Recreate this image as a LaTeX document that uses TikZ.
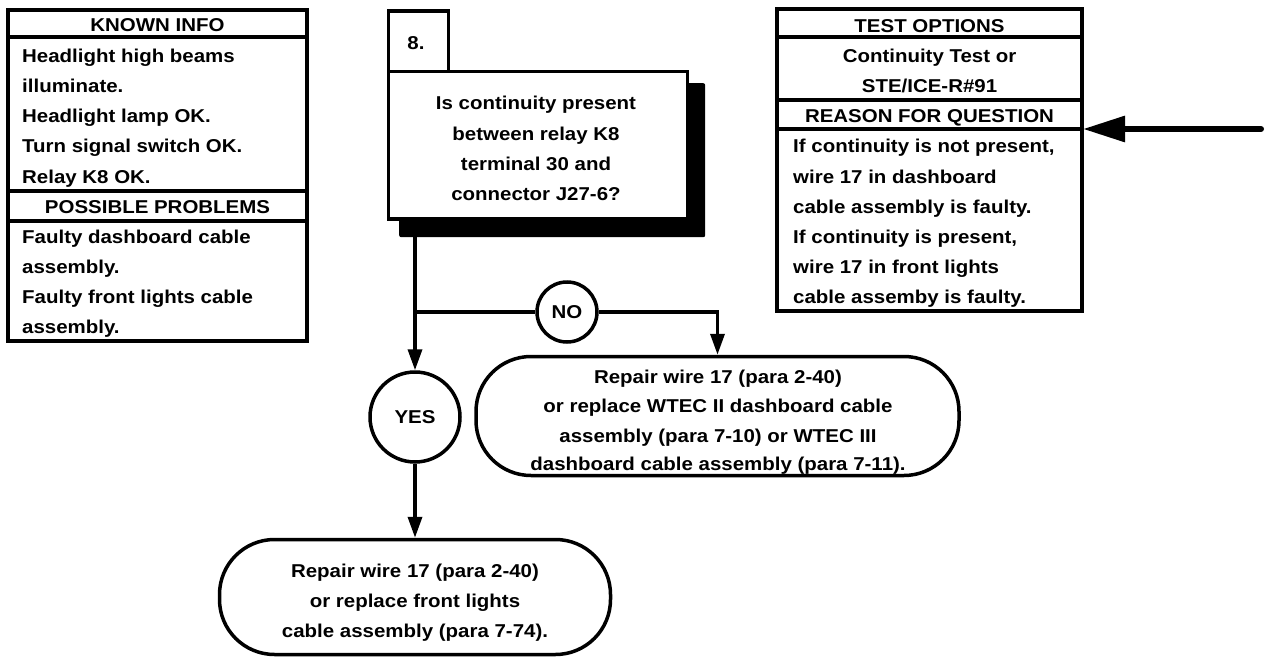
\documentclass[tikz,border=0pt]{standalone}
\usepackage{fontspec}
\setmainfont{Liberation Sans}[FakeStretch=1.1]
\usetikzlibrary{arrows.meta}
\begin{document}
\begin{tikzpicture}[x=1pt,y=-1pt,
  txt/.style={font=\fontsize{18.6}{30}\selectfont\bfseries, inner sep=0pt, anchor=base},
  txtl/.style={txt, anchor=base west},
  panel/.style={draw, line width=3.5pt},
  conn/.style={line width=3.5pt},
  arr/.style={conn, -{Triangle[length=21pt,width=14pt]}},
  shape0/.style={draw, line width=3.5pt, inner sep=0pt},
  result/.style={shape0, rounded corners=55pt}]
\useasboundingbox (0,0) rectangle (1268,658);

% ---------- left panel ----------
\draw[panel] (8,10) rectangle (307,341);
\draw[panel] (8,37) -- (307,37);
\draw[panel] (8,191) -- (307,191);
\draw[panel] (8,221) -- (307,221);
\node[txt] (kh) at (157.5,32) {KNOWN INFO};
\node[txtl] (k1) at (22,63) {Headlight high beams};
\node[txtl] (k2) at (22,93) {illuminate.};
\node[txtl] (k3) at (22,123) {Headlight lamp OK.};
\node[txtl] (k4) at (22,153) {Turn signal switch OK.};
\node[txtl] (k5) at (22,183) {Relay K8 OK.};
\node[txt] (ph) at (157.5,213) {POSSIBLE PROBLEMS};
\node[txtl] (p1) at (22,243) {Faulty dashboard cable};
\node[txtl] (p2) at (22,273) {assembly.};
\node[txtl] (p3) at (22,303) {Faulty front lights cable};
\node[txtl] (p4) at (22,333) {assembly.};

% ---------- right panel ----------
\draw[panel] (777,9) rectangle (1082,311);
\draw[panel] (777,37) -- (1082,37);
\draw[panel] (777,100) -- (1082,100);
\draw[panel] (777,129) -- (1082,129);
\node[txt] (th) at (929.5,33) {TEST OPTIONS};
\node[txt] (t1) at (929.5,63) {Continuity Test or};
\node[txt] (t2) at (929.5,93) {STE/ICE-R\#91};
\node[txt] (rh) at (929.5,123) {REASON FOR QUESTION};
\node[txtl] (r1) at (793,153) {If continuity is not present,};
\node[txtl] (r2) at (793,183) {wire 17 in dashboard};
\node[txtl] (r3) at (793,213) {cable assembly is faulty.};
\node[txtl] (r4) at (793,243) {If continuity is present,};
\node[txtl] (r5) at (793,273) {wire 17 in front lights};
\node[txtl] (r6) at (793,303) {cable assemby is faulty.};

\coordinate (rq) at (1083,129);
\coordinate (rqstart) at (1261,129);
\draw[line width=6pt, line cap=round, -{Triangle[length=42pt,width=25pt]}] (rqstart) -- (rq);

% ---------- question box ----------
\node[fill=black, rounded corners=2pt, minimum width=306pt, minimum height=154pt,
      anchor=north west, inner sep=0pt] (qs) at (399,83) {};
\node[shape0, fill=white, minimum width=60pt, minimum height=62pt,
      anchor=north west] (num) at (386.5,9.5) {};
\node[shape0, fill=white, minimum width=299pt, minimum height=147pt,
      anchor=north west] (q) at (386.5,70) {};
\node[txt] (numt) at (416,50) {8.};
\node[txt] (q1) at (536,110) {Is continuity present};
\node[txt] (q2) at (536,140) {between relay K8};
\node[txt] (q3) at (536,170) {terminal 30 and};
\node[txt] (q4) at (536,200) {connector J27-6?};

% ---------- decisions ----------
\node[shape0, circle, fill=white, minimum size=60pt,
      font=\fontsize{18.6}{30}\selectfont\bfseries] (no) at (567,312) {NO};
\node[shape0, circle, fill=white, minimum size=90pt,
      font=\fontsize{18.6}{30}\selectfont\bfseries] (yes) at (415,417) {YES};

% ---------- results ----------
\node[result, minimum width=483pt, minimum height=119pt] (nores) at (717.5,416) {};
\node[txt] (n1) at (718,383) {Repair wire 17 (para 2-40)};
\node[txt] (n2) at (718,412) {or replace WTEC II dashboard cable};
\node[txt] (n3) at (718,442) {assembly (para 7-10) or WTEC III};
\node[txt] (n4) at (718,470) {dashboard cable assembly (para 7-11).};

\node[result, minimum width=391pt, minimum height=115pt] (yesres) at (415,597) {};
\node[txt] (y1) at (415,577) {Repair wire 17 (para 2-40)};
\node[txt] (y2) at (415,607) {or replace front lights};
\node[txt] (y3) at (415,637) {cable assembly (para 7-74).};

% ---------- connectors ----------
\coordinate (j) at (415,312);
\draw[arr] (qs.south -| yes.north) -- (yes.north);
\draw[conn] (j) -- (no.west);
\draw[arr] (no.east) -| (nores.north);
\draw[arr] (yes.south) -- (yesres.north);
\end{tikzpicture}
\end{document}
